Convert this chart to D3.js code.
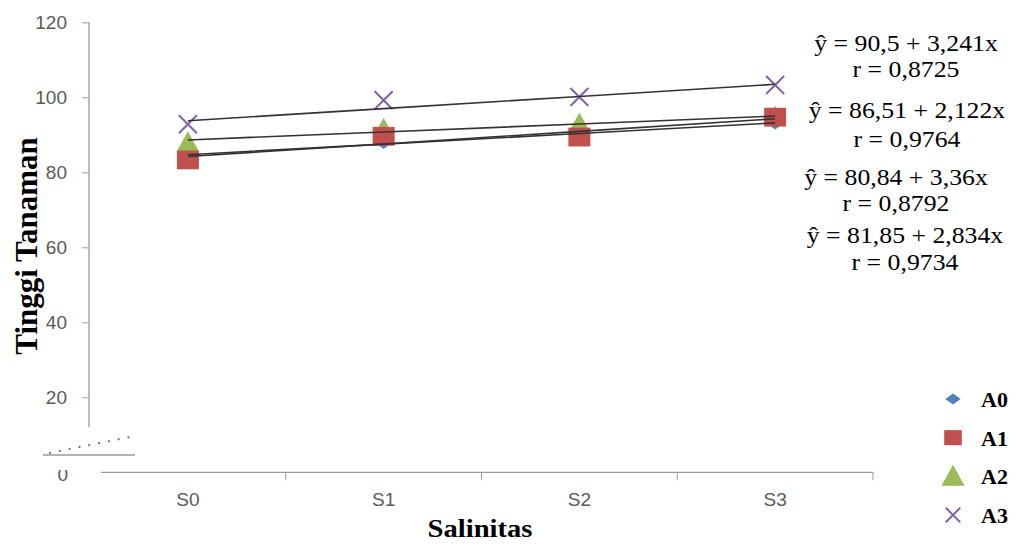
<!DOCTYPE html>
<html>
<head>
<meta charset="utf-8">
<script src="https://cdn.jsdelivr.net/npm/d3@7/dist/d3.min.js"></script>
<style>
  html, body { margin: 0; padding: 0; background: #fff; }
  svg { display: block; }
</style>
</head>
<body>
<svg id="chart"></svg>
<script>
// data
const categories = ["S0", "S1", "S2", "S3"];
const seriesNames = ["A0", "A1", "A2", "A3"];
const a0Values = [84.6, 87.8, 90.3, 93.0];
const a1Values = [83.3, 89.6, 89.4, 94.7];
const a2Values = [88.0, 91.6, 93.0, 94.8];
const a3Values = [92.8, 99.2, 100.1, 103.3];
// linear trend lines  y = a + b*x  (x = 1..4)
const trendIntercepts = [81.85, 80.84, 86.51, 90.5];
const trendSlopes = [2.834, 3.36, 2.122, 3.241];
const trendR = ["0,9734", "0,8792", "0,9764", "0,8725"];
const yTicks = [20, 40, 60, 80, 100, 120];

const seriesValues = [a0Values, a1Values, a2Values, a3Values];
const colors = ["#4f81bd", "#c0504d", "#9bbb59", "#7f62a9"];

const W = 1017;
const H = 545;

const svg = d3.select("#chart").attr("width", W).attr("height", H);

// scales
const x = d3.scaleBand().domain(categories).range([90, 873]).padding(0);
const y = d3.scaleLinear().domain([0, 120]).range([472.3, 22.3]);
const cx = (c) => x(c) + x.bandwidth() / 2;

const axisColor = "#9a9a9a";
const tickFont = "'Liberation Sans', Arial, sans-serif";
const serif = "'Liberation Serif', 'Times New Roman', serif";

// y axis
const yAxis = svg
  .append("g")
  .attr("transform", `translate(${x.range()[0] - 1},0)`)
  .call(d3.axisLeft(y).tickValues(yTicks).tickSize(7).tickPadding(15));
yAxis.select(".domain").remove();
yAxis.selectAll(".tick line").attr("stroke", axisColor);
yAxis
  .selectAll(".tick text")
  .attr("fill", "#5a5a5a")
  .style("font-family", tickFont)
  .style("font-size", "19px");
yAxis
  .append("line")
  .attr("x1", 0)
  .attr("x2", 0)
  .attr("y1", y(120))
  .attr("y2", y(12))
  .attr("stroke", axisColor)
  .attr("stroke-width", 1.3);

// axis break
svg
  .append("line")
  .attr("x1", 43)
  .attr("x2", 135)
  .attr("y1", 455)
  .attr("y2", 455)
  .attr("stroke", axisColor)
  .attr("stroke-width", 1.3);
svg
  .append("line")
  .attr("x1", 49)
  .attr("y1", 453)
  .attr("x2", 130)
  .attr("y2", 437)
  .attr("stroke", "#777")
  .attr("stroke-width", 2)
  .style("stroke-dasharray", "2 8");

// clipped zero label
svg
  .append("clipPath")
  .attr("id", "zeroClip")
  .append("rect")
  .attr("x", 0)
  .attr("y", 470)
  .attr("width", 100)
  .attr("height", 30);
svg
  .append("text")
  .attr("clip-path", "url(#zeroClip)")
  .attr("x", 68)
  .attr("y", 481)
  .attr("text-anchor", "end")
  .attr("fill", "#5a5a5a")
  .style("font-family", tickFont)
  .style("font-size", "19px")
  .text("0");

// x axis
const xAxis = svg
  .append("g")
  .attr("transform", `translate(0,${y(0)})`)
  .call(d3.axisBottom(x).tickSize(0).tickPadding(20));
xAxis.select(".domain").remove();
xAxis
  .selectAll(".tick text")
  .attr("fill", "#5a5a5a")
  .style("font-family", tickFont)
  .style("font-size", "19px");
xAxis
  .append("line")
  .attr("x1", 101)
  .attr("x2", x.range()[1])
  .attr("stroke", axisColor)
  .attr("stroke-width", 1.3);
xAxis
  .selectAll(".sep")
  .data(categories.slice(1).map((c) => x(c)).concat([x.range()[1]]))
  .join("line")
  .attr("class", "sep")
  .attr("x1", (d) => d)
  .attr("x2", (d) => d)
  .attr("y1", 0)
  .attr("y2", 8)
  .attr("stroke", axisColor);

// axis titles
svg
  .append("text")
  .attr("transform", `translate(480,537) scale(1.1,1)`)
  .attr("text-anchor", "middle")
  .attr("font-weight", "bold")
  .style("font-family", serif)
  .style("font-size", "26px")
  .text("Salinitas");
svg
  .append("text")
  .attr("transform", `translate(37,246) rotate(-90)`)
  .attr("text-anchor", "middle")
  .attr("font-weight", "bold")
  .style("font-family", serif)
  .style("font-size", "31px")
  .text("Tinggi Tanaman");

// marker shapes
function markerPath(i, s) {
  if (i === 0) return `M${-s * 0.55},0L0,${-s * 0.4}L${s * 0.55},0L0,${s * 0.4}Z`;
  if (i === 1) return `M${-s * 0.55},${-s * 0.47}h${s * 1.1}v${s * 0.94}h${-s * 1.1}Z`;
  if (i === 2) return `M0,${-s * 0.55}L${s * 0.55},${s * 0.45}L${-s * 0.55},${s * 0.45}Z`;
  const h = s * 0.45;
  return `M${-h},${-h}L${h},${h}M${-h},${h}L${h},${-h}`;
}
function styleMarker(sel, i) {
  if (i === 3) {
    sel.attr("fill", "none").attr("stroke", colors[i]).attr("stroke-width", 2);
  } else {
    sel.attr("fill", colors[i]).attr("stroke", "none");
  }
}

// markers (A2 below A1, like the original)
[0, 2, 1, 3].forEach((i) => {
  const g = svg.append("g").attr("class", "series-" + i);
  g.selectAll("path")
    .data(seriesValues[i])
    .join("path")
    .attr("transform", (d, j) => `translate(${cx(categories[j])},${y(d)})`)
    .attr("d", markerPath(i, i === 0 ? 15 : 20))
    .call(styleMarker, i);
});

// trend lines
const trendLine = d3
  .line()
  .x((d) => cx(categories[d.k]))
  .y((d) => y(d.v));
seriesNames.forEach((name, i) => {
  const pts = categories.map((c, k) => ({
    k: k,
    v: trendIntercepts[i] + trendSlopes[i] * (k + 1),
  }));
  svg
    .append("path")
    .datum(pts)
    .attr("d", trendLine)
    .attr("fill", "none")
    .attr("stroke", "#333")
    .attr("stroke-width", 1.6);
});

// equations, top to bottom A3, A2, A1, A0
const fmt = (v) => String(v).replace(".", ",");
const eqPos = [
  { x: 905, y1: 243, y2: 270 },
  { x: 896, y1: 185, y2: 211 },
  { x: 907, y1: 118, y2: 147 },
  { x: 906, y1: 51, y2: 77 },
];
seriesNames.forEach((name, i) => {
  const p = eqPos[i];
  svg
    .append("text")
    .attr("transform", `translate(${p.x},${p.y1}) scale(1.12,1)`)
    .attr("text-anchor", "middle")
    .style("font-family", serif)
    .style("font-size", "23px")
    .text(`ŷ = ${fmt(trendIntercepts[i])} + ${fmt(trendSlopes[i])}x`);
  svg
    .append("text")
    .attr("transform", `translate(${p.x},${p.y2}) scale(1.12,1)`)
    .attr("text-anchor", "middle")
    .style("font-family", serif)
    .style("font-size", "23px")
    .text(`r = ${trendR[i]}`);
});

// legend
const legendY = d3.scalePoint().domain(seriesNames).range([399, 515]);
const legend = svg
  .selectAll(".legend")
  .data(seriesNames)
  .join("g")
  .attr("class", "legend")
  .attr("transform", (d) => `translate(953,${legendY(d)})`);
legend.each(function (d, i) {
  const g = d3.select(this);
  const sizes = [14, 16, 21, 16];
  g.append("path").attr("d", markerPath(i, sizes[i])).call(styleMarker, i);
  g.append("text")
    .attr("x", 28)
    .attr("y", 8)
    .attr("font-weight", "bold")
    .style("font-family", serif)
    .style("font-size", "22px")
    .text(d);
});
</script>
</body>
</html>
